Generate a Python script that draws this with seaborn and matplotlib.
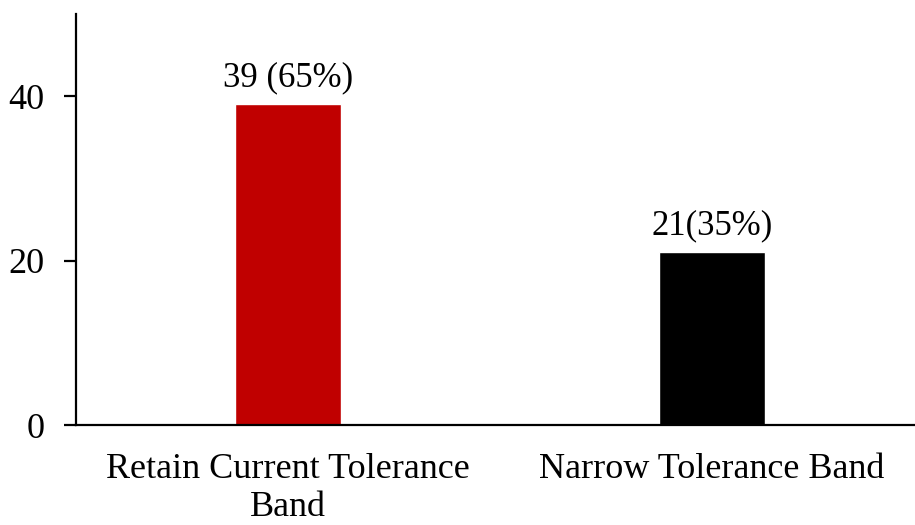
import matplotlib
matplotlib.use("Agg")
import matplotlib.pyplot as plt
import seaborn as sns
import pandas as pd

categories = ["Retain Current Tolerance\nBand", "Narrow Tolerance Band"]
counts = [39, 21]
labels = ["39 (65%)", "21(35%)"]
colors = ["#C00000", "#000000"]
yticks = [0, 20, 40]

sns.set_style("white")
plt.rcParams["font.family"] = ["Liberation Serif", "DejaVu Serif"]
plt.rcParams["text.color"] = "black"
plt.rcParams["xtick.color"] = "black"
plt.rcParams["ytick.color"] = "black"

df = pd.DataFrame({"cat": categories, "n": counts})
fig = plt.figure(figsize=(9.15, 5.25), dpi=100)
ax = fig.add_axes([76 / 915, 1 - 425 / 525, (915 - 76) / 915, (425 - 14) / 525])
sns.barplot(data=df, x="cat", y="n", hue="cat", palette=colors, width=0.25,
            legend=False, ax=ax, saturation=1)
ax.set_xlim(-0.5, 1.479)
ax.set_ylim(0, 50)
ax.set_yticks(yticks)
ax.set_xlabel("")
ax.set_ylabel("")
for s in ["top", "right"]:
    ax.spines[s].set_visible(False)
for s in ["left", "bottom"]:
    ax.spines[s].set_linewidth(1.6)
    ax.spines[s].set_color("black")
ax.tick_params(axis="y", length=8.6, width=1.6, direction="out", pad=14,
               labelsize=26, left=True, colors="black")
ax.tick_params(axis="x", length=0, pad=20, labelsize=26, colors="black")
for lab in ax.get_xticklabels():
    lab.set_linespacing(1.2)
for i, (v, t) in enumerate(zip(counts, labels)):
    ax.text(i, v + 2.2, t, ha="center", va="baseline", fontsize=25, color="black")
fig.savefig("out.png", dpi=100)
